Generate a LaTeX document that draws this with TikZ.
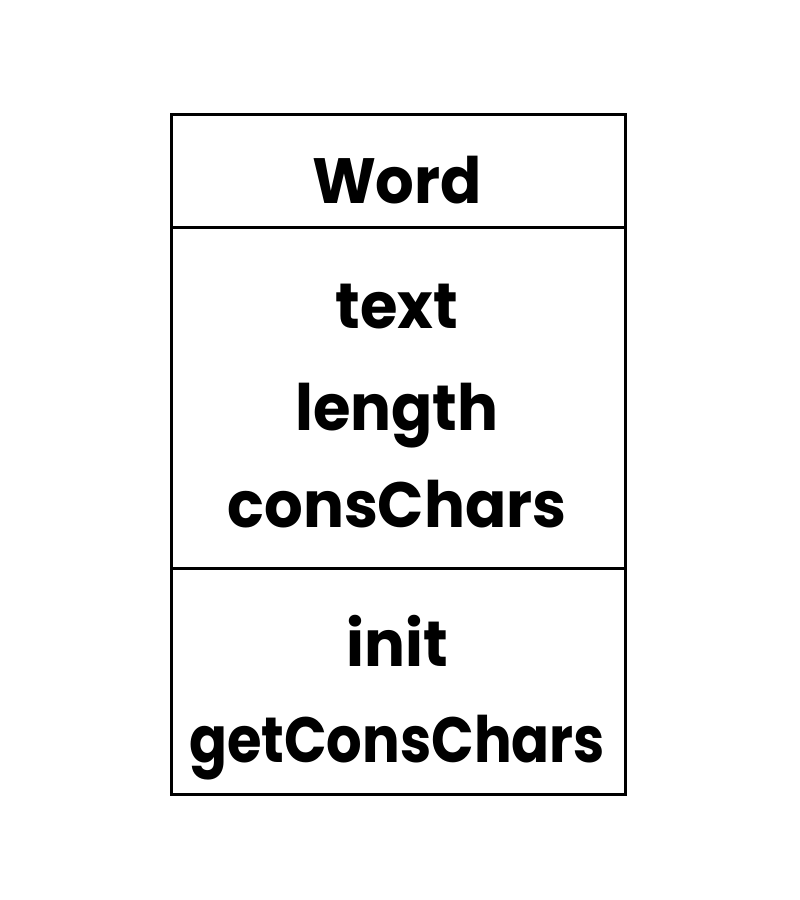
\documentclass[tikz,border=0pt]{standalone}
\usepackage{fontspec}
\setmainfont{Poppins}[BoldFeatures={FakeStretch=0.95}]
\begin{document}
\begin{tikzpicture}[x=1pt,y=-1pt,
  comp/.style={draw,line width=2.6pt,minimum width=454pt,inner sep=0pt,anchor=north west},
  lbl/.style={font=\fontsize{64}{64}\selectfont\bfseries,anchor=base,inner sep=0pt}]
\useasboundingbox (0,0) rectangle (800,900);
\node[comp,minimum height=113pt] (title) at (170,113) {};
\node[comp,minimum height=341pt] (attrs) at (170,226) {};
\node[comp,minimum height=226pt] (meths) at (170,567) {};
\node[lbl] (word) at (397,203) {Word};
\node[lbl] (text) at (397,328) {text};
\node[lbl] (length) at (397,430) {length};
\node[lbl] (cons) at (397,527) {consChars};
\node[lbl] (init) at (397,666) {init};
\node[lbl] (get) at (397,762) {\scalebox{0.92}[1]{getConsChars}};
\end{tikzpicture}
\end{document}
